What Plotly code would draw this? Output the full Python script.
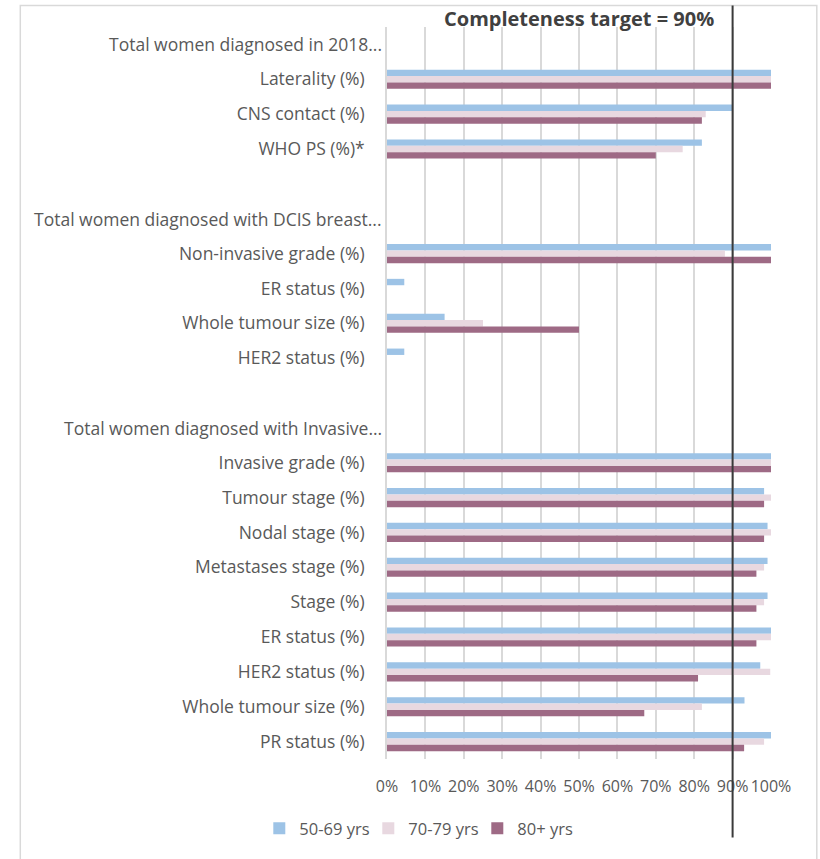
import plotly.graph_objects as go

rows = ["Total women diagnosed in 2018...", "Laterality (%)", "CNS contact (%)", "WHO PS (%)*", "",
        "Total women diagnosed with DCIS breast...", "Non-invasive grade (%)", "ER status (%)",
        "Whole tumour size (%)", "HER2 status (%)", "",
        "Total women diagnosed with Invasive...", "Invasive grade (%)", "Tumour stage (%)",
        "Nodal stage (%)", "Metastases stage (%)", "Stage (%)", "ER status (%)",
        "HER2 status (%)", "Whole tumour size (%)", "PR status (%)"]
header_rows = [0, 5, 11]

series_names = ["50-69 yrs", "70-79 yrs", "80+ yrs"]
v_50_69 = [None, 100, 90, 82, None, None, 100, 4.5, 15, 4.5, None, None, 100, 98.2, 99.1, 99.1, 99.1, 100, 97.2, 93.1, 100]
v_70_79 = [None, 100, 83, 77, None, None, 88, 0, 25, 0, None, None, 100, 100, 100, 98.2, 98.2, 100, 99.8, 82, 98.2]
v_80_plus = [None, 100, 82, 70, None, None, 100, 0, 50, 0, None, None, 100, 98.2, 98.2, 96.2, 96.2, 96.2, 81, 67, 93]
colors = ["#9DC3E6", "#E8D8E0", "#9E6A85"]

target = 90
x_ticks = list(range(0, 101, 10))
x_labels = [f"{t}%" for t in x_ticks]

FONT = "Open Sans"
GREY = "#595959"
LBL = 17.5

pos = list(range(len(rows)))

fig = go.Figure()
for name, vals, col in zip(series_names, [v_50_69, v_70_79, v_80_plus], colors):
    fig.add_trace(go.Bar(
        y=pos, x=vals, name=name, orientation="h",
        marker=dict(color=col, line=dict(width=0)),
    ))

W, H = 820, 859
L, R, T, B = 386.7, 49.3, 26.5, 99.5
pw = W - L - R
ph = H - T - B

def px2paper_x(px):
    return (px - L) / pw

def px2paper_y(py):
    return (H - B - py) / ph

tick_text = ["" if i in header_rows else r for i, r in enumerate(rows)]

fig.update_layout(
    width=W, height=H,
    margin=dict(l=L, r=R, t=T, b=B, pad=0),
    paper_bgcolor="white", plot_bgcolor="white",
    barmode="group", bargap=0.45, bargroupgap=0,
    font=dict(family=FONT, color=GREY, size=LBL),
    showlegend=True,
    legend=dict(orientation="h", x=px2paper_x(259), xanchor="left",
                y=px2paper_y(829), yanchor="middle",
                font=dict(size=16.5, color=GREY),
                entrywidth=64, entrywidthmode="pixels",
                traceorder="normal", itemclick=False),
    xaxis=dict(range=[0, 100], tickvals=x_ticks, ticktext=x_labels,
               showgrid=True, gridcolor="#D9D9D9", gridwidth=1.5,
               zeroline=False, showline=False, ticks="",
               ticklabelstandoff=16,
               tickfont=dict(size=16, color=GREY), fixedrange=True),
    yaxis=dict(range=[len(rows) - 0.5, -0.5], tickvals=pos, ticktext=tick_text,
               showgrid=False, zeroline=False, showline=True,
               linecolor="#D9D9D9", linewidth=1.5, ticks="",
               ticklabelstandoff=17,
               tickfont=dict(size=LBL, color=GREY), fixedrange=True),
)

for i in header_rows:
    fig.add_annotation(text=rows[i], xref="paper", yref="y",
                       x=px2paper_x(384), y=i, xanchor="right", yanchor="middle",
                       showarrow=False, font=dict(family=FONT, size=LBL, color=GREY))

# target line spanning beyond the plot area
fig.add_shape(type="line", xref="x", yref="paper", x0=target, x1=target,
              y0=px2paper_y(838), y1=px2paper_y(5),
              line=dict(color="#3A3A3A", width=2), layer="above")

# chart border
fig.add_shape(type="rect", xref="paper", yref="paper",
              x0=px2paper_x(20), x1=px2paper_x(816.5),
              y0=px2paper_y(875), y1=px2paper_y(5),
              line=dict(color="#D9D9D9", width=1.5), layer="below")

fig.add_annotation(text=f"<b>Completeness target = {target}%</b>",
                   xref="paper", yref="paper", x=px2paper_x(579), y=px2paper_y(18),
                   xanchor="center", yanchor="middle", showarrow=False,
                   font=dict(family=FONT, size=20, color="#404040"))

fig.write_html("out.html")
